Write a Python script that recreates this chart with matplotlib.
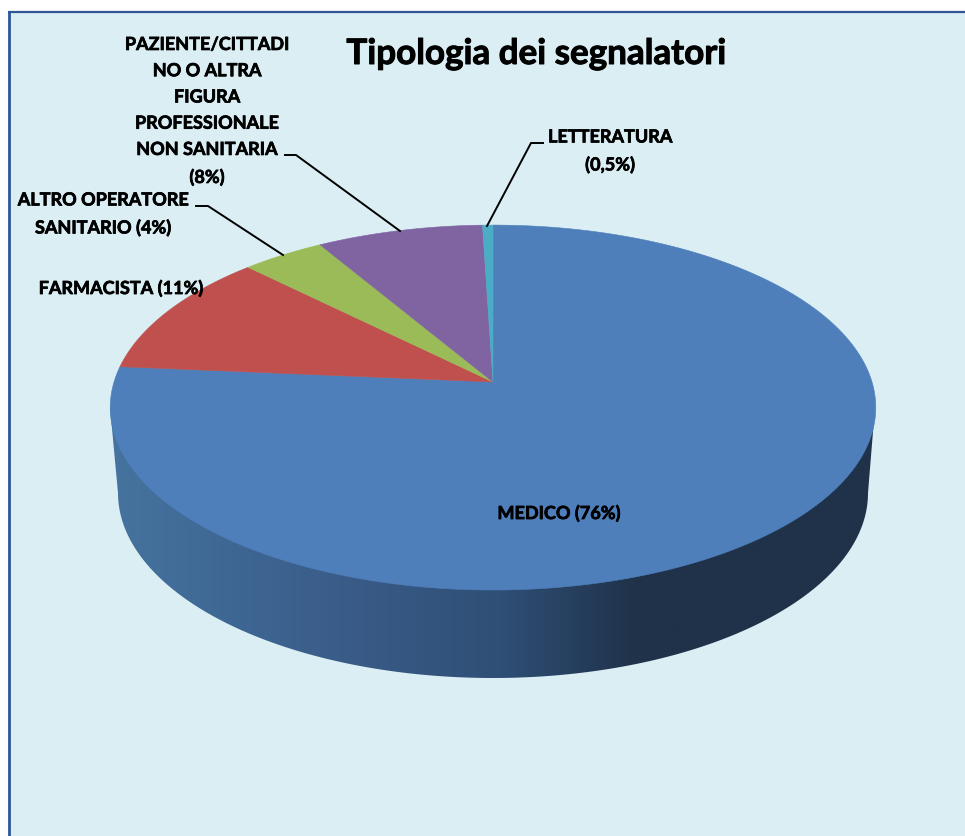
import matplotlib
matplotlib.use("Agg")
import matplotlib.pyplot as plt
import matplotlib.patheffects as pe
from matplotlib.colors import LinearSegmentedColormap
from matplotlib.patches import Polygon, Rectangle
import numpy as np

# dati
categorie = ["MEDICO", "FARMACISTA", "ALTRO OPERATORE SANITARIO",
             "PAZIENTE/CITTADINO O ALTRA FIGURA PROFESSIONALE NON SANITARIA", "LETTERATURA"]
valori = [76, 11, 4, 8, 0.5]
colori = ["#4E7FBB", "#C0504D", "#9BBB59", "#8064A2", "#4BACC6"]
titolo = "Tipologia dei segnalatori"
etichette = ["MEDICO (76%)", "FARMACISTA (11%)", "ALTRO OPERATORE\nSANITARIO (4%)",
             "PAZIENTE/CITTADI\nNO O ALTRA\nFIGURA\nPROFESSIONALE\nNON SANITARIA\n(8%)",
             "LETTERATURA\n(0,5%)"]

FONT = "Lato"

# torta vista in prospettiva: centro del disco e scale in pixel
CX, CY = 493, 382
A, B, K = 178.9, 379.0, 0.14


def proietta(theta):
    u, v = np.cos(theta), np.sin(theta)
    w = 1 + K * v
    return CX + B * u / w, CY - A * v / w


fig = plt.figure(figsize=(9.65, 8.36), dpi=100)
ax = fig.add_axes([0, 0, 1, 1])
ax.set_xlim(0, 965)
ax.set_ylim(836, 0)
ax.axis("off")

# sfondo e cornice (solo sinistra e sopra, il resto esce dalla pagina)
ax.add_patch(Rectangle((9, 12), 960, 830, facecolor="#DBEEF4", edgecolor="none", zorder=0))
ax.plot([9, 9], [836, 11.5], color="#2F5597", lw=2.0, zorder=1, solid_capstyle="butt")
ax.plot([8, 965], [11.5, 11.5], color="#2F5597", lw=1.6, zorder=1, solid_capstyle="butt")

# parete laterale con sfumatura orizzontale
t = np.linspace(np.pi, 2 * np.pi, 300)
x_bot = 493 + 375 * np.cos(t)
y_bot = 493 - 185 * np.sin(t)
lato = np.column_stack([np.r_[110, x_bot, 875], np.r_[407, y_bot, 407]])
cmap = LinearSegmentedColormap.from_list(
    "lato", [(0, "#46739F"), (0.158, "#3F6794"), (0.30, "#3A5C88"), (0.51, "#2F4F76"),
             (0.69, "#1F3249"), (1, "#1F3249")])
grad = np.linspace(0, 1, 512).reshape(1, -1)
im = ax.imshow(grad, extent=[109, 876, 690, 380], cmap=cmap, aspect="auto", zorder=2)
clip = Polygon(lato, closed=True, transform=ax.transData, facecolor="none", edgecolor="none")
ax.add_patch(clip)
im.set_clip_path(clip)
ax.set_xlim(0, 965)
ax.set_ylim(836, 0)

# fette, in senso orario dalle ore 12
quote = np.array(valori) / sum(valori)
fine = np.cumsum(quote)
inizio = fine - quote
for q0, q1, col in zip(inizio, fine, colori):
    th = np.pi / 2 - 2 * np.pi * np.linspace(q0, q1, 400)
    xs, ys = proietta(th)
    ax.fill(np.r_[CX, xs], np.r_[CY, ys], facecolor=col, edgecolor=col, lw=0.4, zorder=3)

# linee guida
guide = [
    ([196, 208, 283], [206, 206, 255]),
    ([285, 296, 400], [155, 155, 231]),
    ([543, 531, 487], [143, 143, 226]),
]
for gx, gy in guide:
    ax.plot(gx, gy, color="black", lw=1.4, zorder=4, solid_joinstyle="miter")

# testi
spessore = [pe.withStroke(linewidth=0.5, foreground="black")]
posizioni = [(559, 513), (121, 288), (103, 214), (207, 111), (610, 151)]
for testo, (px, py) in zip(etichette, posizioni):
    ax.text(px, py, testo, ha="center", va="center", fontsize=13, fontweight="bold",
            family=FONT, color="black", linespacing=1.66, zorder=5, path_effects=spessore)
ax.text(536, 54, titolo, ha="center", va="center", fontsize=25.2, fontweight="bold",
        family=FONT, color="black", zorder=5,
        path_effects=[pe.withStroke(linewidth=0.7, foreground="black")])

fig.savefig("out.png", dpi=100, facecolor="white")
